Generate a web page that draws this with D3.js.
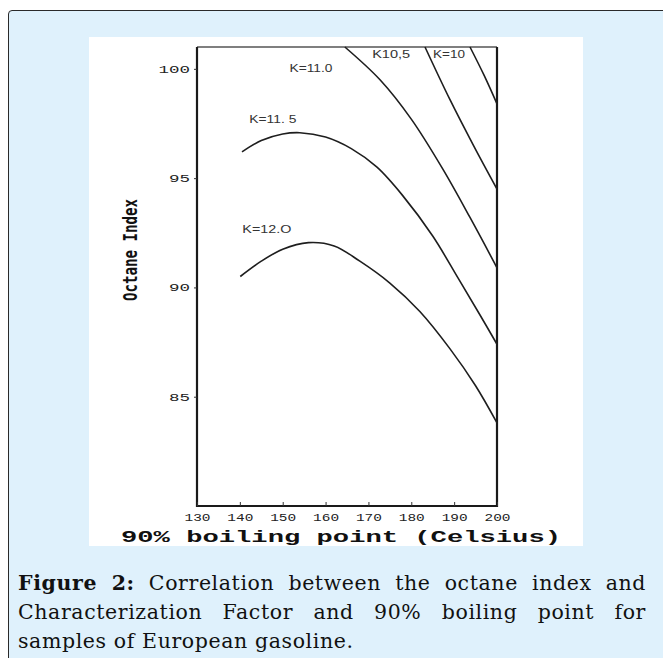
<!DOCTYPE html>
<html lang="en">
<head>
  <meta charset="UTF-8">
  <title>Figure 2 – Octane index</title>
  <script src="https://d3js.org/d3.v7.min.js"></script>
  <style>
    body {
      margin: 0;
      background: #ffffff;
      width: 663px;
      height: 658px;
      overflow: hidden;
      position: relative;
    }

    #card {
      position: absolute;
      left: 8px;
      top: 10px;
      width: 720px;
      height: 720px;
      background: #dff1fc;
      border: 1.5px solid #2a2a2a;
      border-radius: 4px;
    }

    #chart {
      position: absolute;
      left: 0;
      top: 0;
    }

    #caption {
      position: absolute;
      left: 18px;
      top: 569px;
      width: 628px;
      font-family: 'DejaVu Serif', serif;
      font-size: 20.5px;
      letter-spacing: 0.6px;
      line-height: 29px;
      color: #111;
    }

    #caption .line {
      white-space: nowrap;
      text-align: justify;
      text-align-last: justify;
    }

    #caption .line.last {
      text-align-last: left;
    }
  </style>
</head>
<body>
  <div id="card"></div>
  <svg id="chart" width="663" height="658"></svg>
  <div id="caption">
    <div class="line"><b>Figure 2:</b> Correlation between the octane index and</div>
    <div class="line">Characterization Factor and 90% boiling point for</div>
    <div class="line last">samples of European gasoline.</div>
  </div>
<script>
  // valeurs : [point d'ébullition 90%, indice d'octane]
  const kLabels = ["K=10", "K10,5", "K=11.0", "K=11. 5", "K=12.O"];
  const kLabelWidth = [32, 38, 43, 47, 49];

  const curveK100 = [[193.7, 101], [197, 99.7], [200, 98.4]];
  const curveK105 = [[183.2, 101], [189, 98.6], [194.5, 96.5], [200, 94.5]];
  const curveK110 = [[164.5, 101], [172.7, 99.5], [180, 97.7], [187.4, 95.4], [193.7, 93.2], [200, 90.9]];
  const curveK115 = [[140.5, 96.2], [145, 96.72], [150, 97.02], [154, 97.08], [160, 96.88], [166, 96.35],
                     [172, 95.5], [178, 94.2], [185, 92.35], [191, 90.4], [196, 88.75], [200, 87.4]];
  const curveK120 = [[140.1, 90.5], [145, 91.2], [150, 91.75], [156, 92.05], [162, 91.9], [168, 91.2],
                     [175, 90.2], [182, 88.9], [189, 87.2], [195, 85.5], [200, 83.8]];

  // position des étiquettes (en unités des axes)
  const labelPos = [[188.8, 100.63], [175.3, 100.63], [156.6, 100.0], [147.7, 97.66], [146.3, 92.63]];

  const xTicks = [130, 140, 150, 160, 170, 180, 190, 200];
  const yTicks = [85, 90, 95, 100];

  const svg = d3.select("#chart");

  // fond blanc de l'image scannée
  svg.append("rect")
    .attr("x", 89).attr("y", 37)
    .attr("width", 494).attr("height", 509)
    .attr("fill", "#ffffff");

  const x = d3.scaleLinear().domain([130, 200]).range([197, 497]);
  const y = d3.scaleLinear().domain([80, 101]).range([506, 47]);

  // cadre
  svg.append("line")
    .attr("x1", x(130)).attr("x2", x(200))
    .attr("y1", y(101)).attr("y2", y(101))
    .attr("stroke", "#555").attr("stroke-width", 1.5);
  svg.append("path")
    .attr("d", `M${x(130)},${y(101)}V${y(80)}H${x(200)}V${y(101)}`)
    .attr("fill", "none")
    .attr("stroke", "#1a1a1a")
    .attr("stroke-width", 2.2);

  // axes
  const yAxis = svg.append("g")
    .attr("transform", `translate(${x(130)},0)`)
    .call(d3.axisLeft(y).tickValues(yTicks).tickSize(3).tickPadding(4));
  yAxis.select(".domain").remove();
  yAxis.selectAll("line").attr("stroke", "#333");
  yAxis.selectAll("text")
    .attr("font-family", "'Liberation Mono', monospace")
    .attr("font-size", 11)
    .attr("fill", "#222")
    .attr("textLength", d => String(d).length * 10.5)
    .attr("lengthAdjust", "spacingAndGlyphs");

  const xAxis = svg.append("g")
    .attr("transform", `translate(0,${y(80)})`)
    .call(d3.axisBottom(x).tickValues(xTicks).tickSize(-4).tickPadding(8));
  xAxis.select(".domain").remove();
  xAxis.selectAll("line").attr("stroke", "#333");
  xAxis.selectAll("text")
    .attr("font-family", "'Liberation Mono', monospace")
    .attr("font-size", 10)
    .attr("fill", "#222")
    .attr("textLength", 26)
    .attr("lengthAdjust", "spacingAndGlyphs");

  // courbes
  const line = d3.line()
    .x(d => x(d[0]))
    .y(d => y(d[1]))
    .curve(d3.curveCatmullRom.alpha(0.5));

  const curves = [curveK100, curveK105, curveK110, curveK115, curveK120];
  svg.append("g")
    .attr("fill", "none")
    .attr("stroke", "#1e1e1e")
    .attr("stroke-width", 1.6)
    .selectAll("path")
    .data(curves)
    .join("path")
    .attr("d", line);

  svg.append("g")
    .selectAll("text")
    .data(kLabels)
    .join("text")
    .attr("x", (d, i) => x(labelPos[i][0]))
    .attr("y", (d, i) => y(labelPos[i][1]))
    .attr("text-anchor", "middle")
    .attr("dominant-baseline", "middle")
    .attr("font-family", "'Liberation Sans', sans-serif")
    .attr("font-size", 10.5)
    .attr("fill", "#333")
    .attr("textLength", (d, i) => kLabelWidth[i])
    .attr("lengthAdjust", "spacingAndGlyphs")
    .text(d => d);

  // titres des axes
  svg.append("text")
    .attr("transform", "translate(137,250) rotate(-90)")
    .attr("text-anchor", "middle")
    .attr("font-family", "'DejaVu Sans Mono', monospace")
    .attr("font-weight", "bold")
    .attr("font-size", 20)
    .attr("fill", "#111")
    .attr("textLength", 102)
    .attr("lengthAdjust", "spacingAndGlyphs")
    .text("Octane Index");

  svg.append("text")
    .attr("x", 341)
    .attr("y", 542)
    .attr("text-anchor", "middle")
    .attr("font-family", "'Liberation Mono', monospace")
    .attr("font-weight", "bold")
    .attr("font-size", 17)
    .attr("fill", "#111")
    .attr("textLength", 440)
    .attr("lengthAdjust", "spacingAndGlyphs")
    .text("90% boiling point (Celsius)");
</script>
</body>
</html>
